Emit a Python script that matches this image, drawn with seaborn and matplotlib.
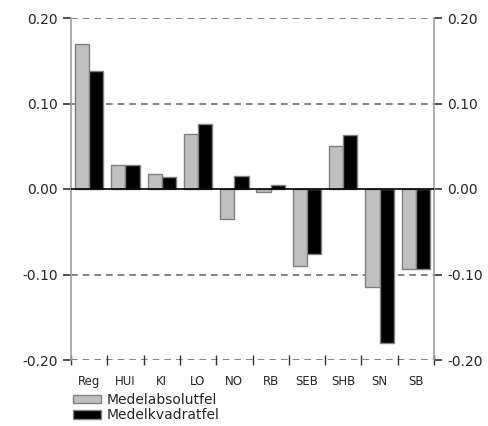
import numpy as np
import pandas as pd
import matplotlib
matplotlib.use("Agg")
import matplotlib.pyplot as plt
import seaborn as sns

categories = ["Reg", "HUI", "KI", "LO", "NO", "RB", "SEB", "SHB", "SN", "SB"]
medelabs = [0.170, 0.028, 0.018, 0.064, -0.035, -0.003, -0.090, 0.050, -0.115, -0.093]
medelkvad = [0.138, 0.028, 0.014, 0.076, 0.015, 0.005, -0.076, 0.063, -0.180, -0.094]
series = ["Medelabsolutfel", "Medelkvadratfel"]

df = pd.DataFrame({
    "cat": categories * 2,
    "val": medelabs + medelkvad,
    "serie": [series[0]] * len(categories) + [series[1]] * len(categories),
})

sns.set_style("white")
plt.rcParams["font.family"] = ["DejaVu Sans"]

fig = plt.figure(figsize=(4.89, 4.26), dpi=100)
ax = fig.add_axes([71 / 489, 1 - 360 / 426, (434 - 71) / 489, (360 - 18) / 426])

sns.barplot(data=df, x="cat", y="val", hue="serie", order=categories,
            palette=["#c0c0c0", "#000000"], edgecolor="#808080", linewidth=1,
            width=0.78, ax=ax, legend=True)

ax.set_xlim(-0.5, len(categories) - 0.5)
ax.set_ylim(-0.2, 0.2)
ax.set_xlabel("")
ax.set_ylabel("")

# grid lines
for y in [-0.2, -0.1, 0.1, 0.2]:
    ax.axhline(y, color="#707070", linestyle=(0, (4, 3)), linewidth=1.2, zorder=0)
ax.axhline(0, color="black", linewidth=1.2, zorder=3)

for side in ["top", "bottom"]:
    ax.spines[side].set_visible(False)
for side in ["left", "right"]:
    ax.spines[side].set_color("#a0a0a0")
    ax.spines[side].set_linewidth(1.2)

yt = [-0.2, -0.1, 0.0, 0.1, 0.2]
ax.set_yticks(yt)
ax.set_yticklabels([f"{v:.2f}" for v in yt], fontsize=10)
ax.tick_params(axis="y", which="major", left=True, right=True, labelleft=True,
               labelright=True, direction="out", length=6, width=1.2, color="#333333")

# category boundaries as ticks, labels at centers
ax.set_xticks(np.arange(-0.5, len(categories) + 0.5, 1))
ax.set_xticklabels([])
ax.set_xticks(np.arange(len(categories)), minor=True)
ax.set_xticklabels(categories, minor=True, fontsize=8.5)
ax.tick_params(axis="x", which="major", bottom=True, direction="inout", length=7,
               width=1, color="#333333")
ax.tick_params(axis="x", which="minor", bottom=True, length=0, pad=11)

leg = ax.legend(loc="upper left", bbox_to_anchor=(-0.01, -0.08), frameon=False,
                fontsize=10, handlelength=2.0, handleheight=0.6, handletextpad=0.4,
                labelspacing=0.1, borderaxespad=0)

fig.savefig("out.png", dpi=100)
